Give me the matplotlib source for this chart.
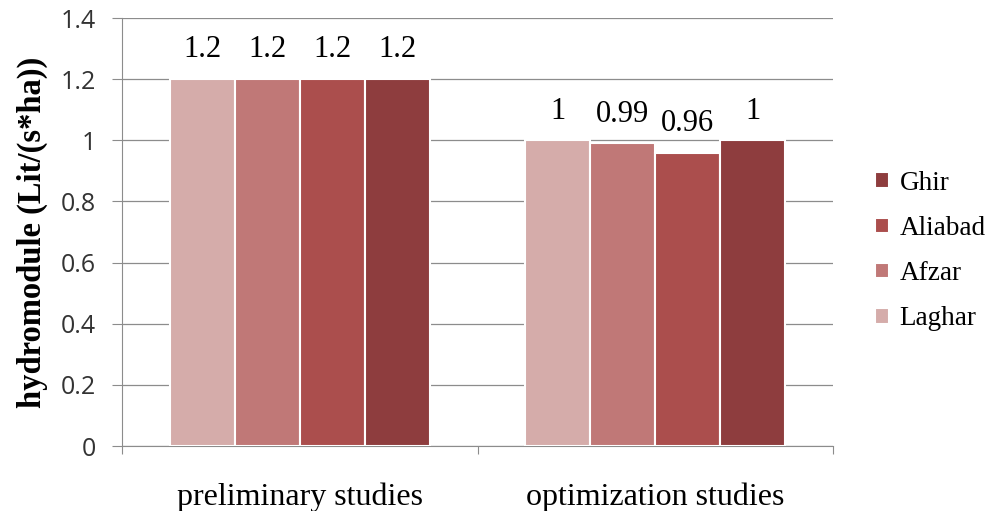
import matplotlib.pyplot as plt
import numpy as np

categories = ['preliminary studies', 'optimization studies']
sites = ['Laghar', 'Afzar', 'Aliabad', 'Ghir']
laghar = [1.2, 1.0]
afzar = [1.2, 0.99]
aliabad = [1.2, 0.96]
ghir = [1.2, 1.0]
labels = {'Laghar': ['1.2', '1'], 'Afzar': ['1.2', '0.99'],
          'Aliabad': ['1.2', '0.96'], 'Ghir': ['1.2', '1']}
colors = ['#d5acaa', '#c07877', '#ab4e4d', '#8e3d3e']

fig = plt.figure(figsize=(9.88, 5.11), dpi=100)
ax = fig.add_axes([122/988, 1-446/511, 711/988, 428/511])

x = np.arange(len(categories))
w = 0.183
series = [laghar, afzar, aliabad, ghir]
handles = []
for i, (name, vals) in enumerate(zip(sites, series)):
    pos = x + (i - 1.5) * w
    b = ax.bar(pos, vals, w, color=colors[i], edgecolor='white', linewidth=1.5,
               label=name, zorder=3)
    handles.append(b)
    for p, v, t in zip(pos, vals, labels[name]):
        ax.annotate(t, xy=(p, v), xytext=(0, 21), textcoords='offset points',
                    ha='center', va='center', fontsize=22, family='Liberation Serif')

ax.set_xlim(-0.5, 1.5)
ax.set_ylim(0, 1.4)
ax.set_yticks(np.arange(0, 1.41, 0.2))
ax.set_yticklabels(['0', '0.2', '0.4', '0.6', '0.8', '1', '1.2', '1.4'],
                   fontsize=18, family='Open Sans', color='#333333')
ax.yaxis.grid(True, color='#8c8c8c', linewidth=0.9, zorder=0)
ax.set_axisbelow(True)

# category boundaries as ticks, labels in the middle
ax.set_xticks([-0.5, 0.5, 1.5])
ax.set_xticklabels([])
ax.set_xticks(x, minor=True)
ax.set_xticklabels(categories, minor=True, fontsize=23, family='Liberation Serif')
ax.tick_params(axis='x', which='minor', length=0, pad=26)
ax.tick_params(axis='x', which='major', length=6, color='#8c8c8c', direction='out')
ax.tick_params(axis='y', length=7, color='#8c8c8c', direction='out', pad=12)

for s in ['top', 'right']:
    ax.spines[s].set_visible(False)
for s in ['left', 'bottom']:
    ax.spines[s].set_color('#8c8c8c')

ax.set_ylabel('hydromodule (Lit/(s*ha))', fontsize=23.5, fontweight='bold',
              family='Liberation Serif', labelpad=9)

leg = ax.legend(handles[::-1], sites[::-1], loc='center left',
                bbox_to_anchor=(875/988, 1-251/511), bbox_transform=fig.transFigure,
                frameon=False, borderaxespad=0, borderpad=0,
                prop={'family': 'Liberation Serif', 'size': 19.5},
                handlelength=0.5, handleheight=0.5, labelspacing=0.75,
                handletextpad=0.4)

plt.savefig('out.png', dpi=100)
